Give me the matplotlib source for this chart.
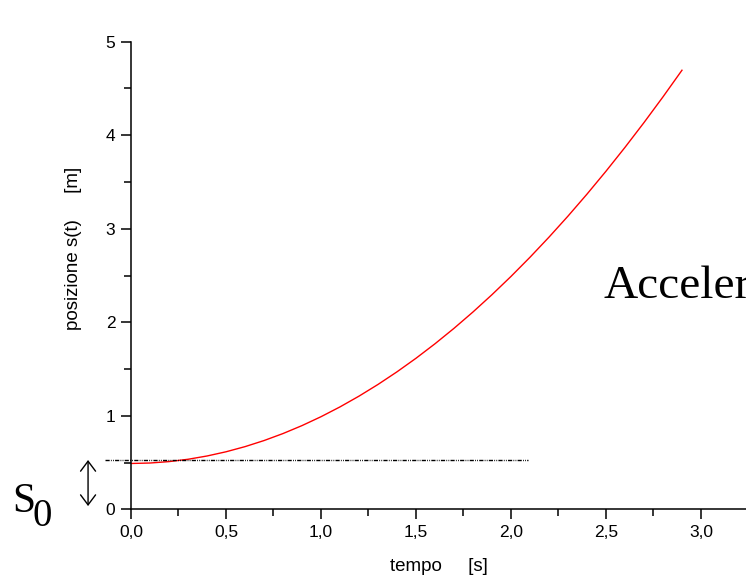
import matplotlib
matplotlib.use('Agg')
import matplotlib.pyplot as plt
from matplotlib.ticker import MultipleLocator, FuncFormatter

# position vs time
tempo = [0.0, 0.1, 0.2, 0.3, 0.4, 0.5, 0.6, 0.7, 0.8, 0.9,
         1.0, 1.1, 1.2, 1.3, 1.4, 1.5, 1.6, 1.7, 1.8, 1.9,
         2.0, 2.1, 2.2, 2.3, 2.4, 2.5, 2.6, 2.7, 2.8, 2.9]
posizione = [0.490, 0.495, 0.510, 0.535, 0.570, 0.615, 0.670, 0.735, 0.810, 0.895,
             0.990, 1.095, 1.210, 1.335, 1.470, 1.615, 1.770, 1.935, 2.110, 2.295,
             2.490, 2.695, 2.910, 3.135, 3.370, 3.615, 3.870, 4.135, 4.410, 4.695]

s0_level   = 0.527          # dash-dot reference line
s0_line_x  = [-0.137, 2.09]
arrow_x    = -0.226
arrow_y    = [0.035, 0.527]

x_max = 3.237
y_max = 5

sans  = ['Liberation Sans', 'DejaVu Sans']
serif = ['Liberation Serif', 'DejaVu Serif']

fig = plt.figure(figsize=(7.46, 5.84), dpi=100)
ax = fig.add_axes([0.1756, 0.1279, 0.8244, 0.8007])

ax.plot(tempo, posizione, color='red', lw=1.0)
ax.plot(s0_line_x, [s0_level, s0_level], color='black', lw=1.0,
        dashes=(3, 0.9, 0.6, 0.9, 0.6, 0.9), clip_on=False)

ax.annotate('', xy=(arrow_x, arrow_y[1]), xytext=(arrow_x, arrow_y[0]),
            arrowprops=dict(arrowstyle='<->,head_length=0.4,head_width=0.3',
                            lw=1.0, color='black', mutation_scale=18,
                            shrinkA=0, shrinkB=0),
            annotation_clip=False)

ax.set_xlim(0, x_max)
ax.set_ylim(0, y_max)

ax.spines['top'].set_visible(False)
ax.spines['right'].set_visible(False)
for sp in ['left', 'bottom']:
    ax.spines[sp].set_linewidth(1.1)

ax.xaxis.set_major_locator(MultipleLocator(0.5))
ax.xaxis.set_minor_locator(MultipleLocator(0.25))
ax.yaxis.set_major_locator(MultipleLocator(1))
ax.yaxis.set_minor_locator(MultipleLocator(0.5))
ax.xaxis.set_major_formatter(FuncFormatter(lambda v, p: f'{v:.1f}'.replace('.', ',')))
ax.yaxis.set_major_formatter(FuncFormatter(lambda v, p: f'{v:.0f}'))

ax.tick_params(which='major', direction='out', length=7.2, width=1.1, pad=4, labelsize=12.5)
ax.tick_params(which='minor', direction='out', length=5, width=1.1)
for lab in ax.get_xticklabels() + ax.get_yticklabels():
    lab.set_family(sans)

ax.set_xlabel('tempo     [s]', family=sans, fontsize=13.5)
ax.set_ylabel('posizione s(t)     [m]', family=sans, fontsize=13.5)
ax.xaxis.set_label_coords(0.5, -0.105)
ax.yaxis.set_label_coords(-0.08, 0.557)

# S0 marker and side text
fig.text(12 / 746, (584 - 512) / 584, 'S', family=serif, fontsize=30, va='baseline')
fig.text(33 / 746, (584 - 526) / 584, '0', family=serif, fontsize=28, va='baseline')
fig.text(603 / 746, (584 - 298) / 584, 'Acceleration', family=serif, fontsize=34, va='baseline')

fig.savefig('out.png', dpi=100)
